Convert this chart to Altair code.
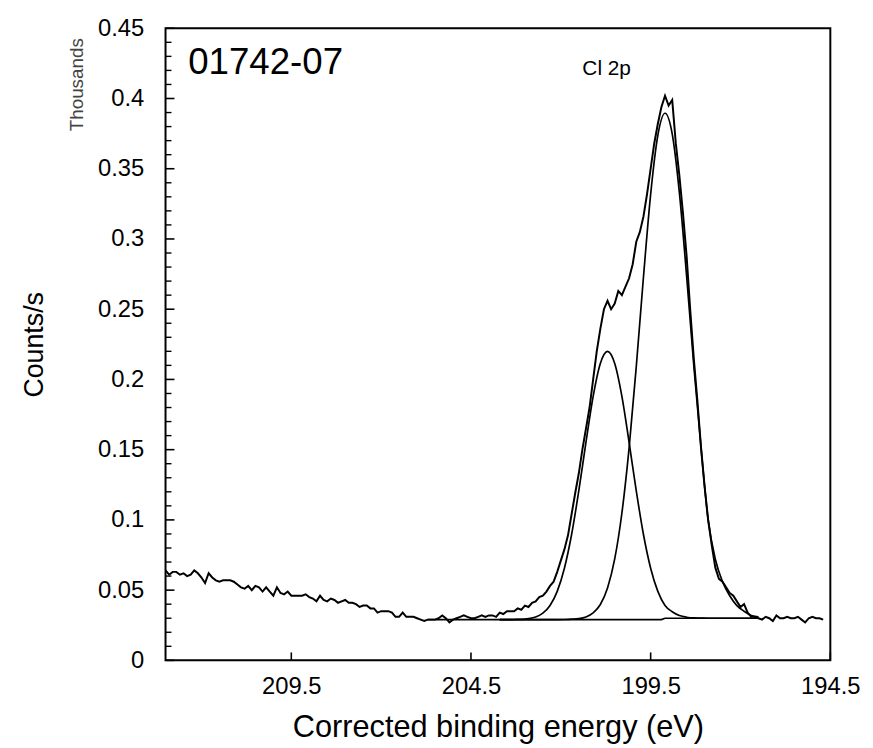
import altair as alt
import pandas as pd

# ---------------- data ----------------
# raw spectrum, 0.1 eV steps starting at 213.0 eV (thousands of counts/s)
raw_counts = [
    0.064, 0.061, 0.063, 0.063, 0.061, 0.062, 0.060, 0.061, 0.064, 0.062,
    0.059, 0.055, 0.062, 0.059, 0.057, 0.056, 0.057, 0.057, 0.057, 0.056,
    0.054, 0.052, 0.051, 0.053, 0.050, 0.053, 0.052, 0.049, 0.052, 0.049,
    0.046, 0.052, 0.048, 0.047, 0.049, 0.046, 0.046, 0.046, 0.046, 0.047,
    0.045, 0.044, 0.042, 0.046, 0.043, 0.042, 0.044, 0.043, 0.041, 0.042,
    0.043, 0.041, 0.041, 0.040, 0.038, 0.039, 0.039, 0.037, 0.037, 0.034,
    0.035, 0.035, 0.035, 0.034, 0.031, 0.031, 0.034, 0.031, 0.031, 0.031,
    0.030, 0.029, 0.028, 0.029, 0.029, 0.029, 0.030, 0.032, 0.030, 0.027,
    0.029, 0.030, 0.031, 0.032, 0.031, 0.030, 0.030, 0.031, 0.032, 0.031,
    0.032, 0.032, 0.031, 0.034, 0.033, 0.035, 0.035, 0.035, 0.037, 0.036,
    0.039, 0.038, 0.041, 0.042, 0.045, 0.046, 0.049, 0.053, 0.056, 0.063,
    0.071, 0.079, 0.089, 0.104, 0.119, 0.133, 0.150, 0.165, 0.180, 0.200,
    0.220, 0.236, 0.250, 0.256, 0.250, 0.254, 0.263, 0.260, 0.266, 0.272,
    0.282, 0.298, 0.305, 0.316, 0.332, 0.350, 0.368, 0.382, 0.394, 0.402,
    0.395, 0.399, 0.368, 0.345, 0.318, 0.288, 0.250, 0.215, 0.185, 0.152,
    0.124, 0.100, 0.082, 0.066, 0.058, 0.056, 0.052, 0.048, 0.046, 0.042,
    0.038, 0.040, 0.034, 0.031, 0.031, 0.030, 0.029, 0.031, 0.030, 0.028,
    0.032, 0.030, 0.030, 0.031, 0.030, 0.030, 0.031, 0.029, 0.027, 0.030,
    0.031, 0.030, 0.030, 0.029,
]
raw_energy = [round(213.0 - 0.1 * i, 1) for i in range(len(raw_counts))]

# fitted components, 0.2 eV steps starting at 203.7 eV
fit_energy = [round(203.7 - 0.2 * i, 1) for i in range(37)]
peak_main = [
    0.029, 0.029, 0.029, 0.029, 0.029, 0.029, 0.029, 0.029, 0.029,
    0.0291, 0.0293, 0.0297, 0.0309, 0.0338,
    0.0398, 0.0516, 0.0722, 0.1049, 0.1511,
    0.2092, 0.2729, 0.3318, 0.3738, 0.3895,
    0.3748, 0.3328, 0.2739, 0.2102, 0.1521,
    0.100, 0.072, 0.056, 0.046, 0.039,
    0.035, 0.032, 0.031,
]
peak_minor = [
    0.029, 0.029, 0.0291, 0.0292, 0.0297, 0.0309, 0.0336, 0.0391, 0.0491,
    0.0656, 0.0896, 0.1206, 0.1553, 0.1880,
    0.2114, 0.2200, 0.2114, 0.1880, 0.1553,
    0.1206, 0.0896, 0.0656, 0.0491, 0.0391,
    0.0346, 0.0319, 0.0307, 0.0302, 0.0301,
    0.030, 0.030, 0.030, 0.030, 0.030,
    0.030, 0.030, 0.030,
]
# background
bg_energy = [205.7, 199.2, 199.1, 196.5]
bg_counts = [0.029, 0.029, 0.030, 0.030]

# axes
x_ticks = [209.5, 204.5, 199.5, 194.5]
y_major = [0, 0.05, 0.1, 0.15, 0.2, 0.25, 0.3, 0.35, 0.4, 0.45]
y_minor = [round(0.01 * i, 2) for i in range(46) if i % 5 != 0]

# annotations
sample_label = ["01742-07"]
sample_label_energy = [212.37]
sample_label_counts = [0.425]
peak_label = ["Cl 2p"]
peak_label_energy = [201.4]
peak_label_counts = [0.4168]

# ---------------- chart ----------------
W, H = 671, 638
FONT = "Liberation Sans"
xscale = alt.Scale(domain=[194.5, 213], reverse=True, nice=False, zero=False)
yscale = alt.Scale(domain=[0, 0.45], nice=False, zero=False)

raw_df = pd.DataFrame({"E": raw_energy, "c": raw_counts})
main_df = pd.DataFrame({"E": fit_energy, "c": peak_main})
minor_df = pd.DataFrame({"E": fit_energy, "c": peak_minor})
bg_df = pd.DataFrame({"E": bg_energy, "c": bg_counts})

x_axis = alt.Axis(
    values=x_ticks, format=".1f", title="Corrected binding energy (eV)",
    ticks=False, domain=False, grid=False, labelFlush=False,
    labelFontSize=24, labelPadding=14, labelColor="black", labelFont=FONT,
    titleFontSize=31, titleFontWeight="normal", titleColor="black", titleFont=FONT,
    titleY=77, titleBaseline="alphabetic",
)
y_axis = alt.Axis(
    values=y_major, format=".2~f", title="Counts/s",
    ticks=False, domain=False, grid=False, labelFlush=False,
    labelFontSize=24, labelPadding=22, labelColor="black", labelFont=FONT,
    titleFontSize=27, titleFontWeight="normal", titleColor="black", titleFont=FONT,
    titleAngle=270, titleX=-132, titleY=H / 2, titleAlign="center",
    titleBaseline="middle",
)


def X(field):
    return alt.X(field, scale=xscale, axis=x_axis)


def Y(field):
    return alt.Y(field, scale=yscale, axis=y_axis)


def line(df, sw, interp):
    return alt.Chart(df).mark_line(color="black", strokeWidth=sw, interpolate=interp).encode(
        x=X("E:Q"), y=Y("c:Q")
    )


raw = line(raw_df, 2, "linear")
bg = line(bg_df, 1.7, "linear")
main = line(main_df, 1.7, "monotone")
minor = line(minor_df, 1.7, "monotone")

ymaj = alt.Chart(pd.DataFrame({"v": y_major})).mark_rule(color="black", strokeWidth=1.6).encode(
    y=Y("v:Q"), x=alt.value(0), x2=alt.value(9)
)
ymin = alt.Chart(pd.DataFrame({"v": y_minor})).mark_rule(color="black", strokeWidth=1.4).encode(
    y=Y("v:Q"), x=alt.value(0), x2=alt.value(6)
)
xt = alt.Chart(pd.DataFrame({"e": x_ticks})).mark_rule(color="black", strokeWidth=1.6).encode(
    x=X("e:Q"), y=alt.value(H), y2=alt.value(H - 8)
)

sample_txt = alt.Chart(pd.DataFrame({"E": sample_label_energy, "c": sample_label_counts, "t": sample_label})).mark_text(
    align="left", baseline="middle", fontSize=37, font=FONT, color="black"
).encode(x=X("E:Q"), y=Y("c:Q"), text="t:N")

peak_txt = alt.Chart(pd.DataFrame({"E": peak_label_energy, "c": peak_label_counts, "t": peak_label})).mark_text(
    align="left", baseline="alphabetic", fontSize=21, font=FONT, color="black"
).encode(x=X("E:Q"), y=Y("c:Q"), text="t:N")

thousands = alt.Chart(pd.DataFrame({"t": ["Thousands"]})).mark_text(
    angle=270, align="center", baseline="middle", fontSize=19, font=FONT, color="#444444"
).encode(x=alt.value(-89), y=alt.value(57), text="t:N")

chart = alt.layer(raw, bg, main, minor, ymaj, ymin, xt, sample_txt, peak_txt, thousands).properties(
    width=W, height=H,
    padding={"left": 159, "top": 17, "right": 35, "bottom": 85},
    autosize=alt.AutoSizeParams(type="none"),
).configure(font=FONT).configure_view(stroke="black", strokeWidth=2)

chart.save("out.html", embed_options={"renderer": "svg", "actions": False})
